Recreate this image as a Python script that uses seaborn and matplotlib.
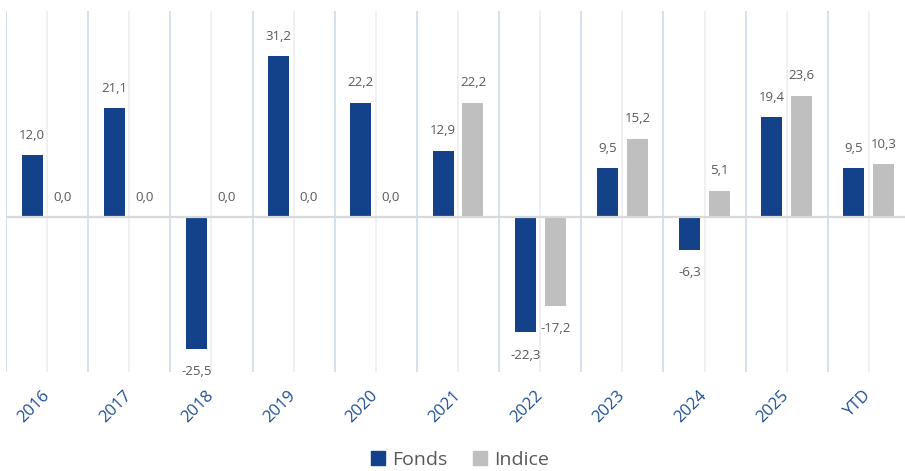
import matplotlib
matplotlib.use("Agg")
import matplotlib.pyplot as plt
import seaborn as sns
import pandas as pd

years = ["2016", "2017", "2018", "2019", "2020", "2021", "2022", "2023", "2024", "2025", "YTD"]
fonds = [12.0, 21.1, -25.5, 31.2, 22.2, 12.9, -22.3, 9.5, -6.3, 19.4, 9.5]
indice = [0.0, 0.0, 0.0, 0.0, 0.0, 22.2, -17.2, 15.2, 5.1, 23.6, 10.3]
series = ["Fonds", "Indice"]
colors = {"Fonds": "#13428a", "Indice": "#bfbfbf"}

df = pd.DataFrame({
    "Année": years * 2,
    "Série": [series[0]] * len(years) + [series[1]] * len(years),
    "Valeur": fonds + indice,
})

sns.set_theme(style="white")
plt.rcParams["font.family"] = ["Open Sans", "DejaVu Sans"]

fig = plt.figure(figsize=(9.05, 4.71), dpi=100)
W, H = 905, 471
ax = fig.add_axes([6 / W, 99 / H, 904 / W, 361 / H])

sns.barplot(data=df, x="Année", y="Valeur", hue="Série", order=years,
            hue_order=series, palette=colors, width=0.73, gap=0.3,
            saturation=1, linewidth=0, ax=ax, legend=False)

ax.set_xlim(-0.5, len(years) - 0.5)
ax.set_ylim(-30, 40)
ax.set_yticks([])
ax.set_xlabel("")
ax.set_ylabel("")
for s in ax.spines.values():
    s.set_visible(False)

# vertical guides: category boundaries in light blue, centres in light grey
ax.set_xticks([i - 0.5 for i in range(len(years) + 1)], minor=True)
ax.grid(False)
ax.grid(which="minor", axis="x", color="#d6e0ee", lw=1.4)
ax.grid(which="major", axis="x", color="#f0f0f0", lw=1.4)
ax.set_axisbelow(True)
ax.axhline(0, color="#d9d9d9", lw=1.6, zorder=1)

ax.tick_params(axis="x", which="both", length=0, pad=15)
for lab in ax.get_xticklabels():
    lab.set_rotation(45)
    lab.set_ha("right")
    lab.set_va("center")
    lab.set_rotation_mode("anchor")
    lab.set_color("#1d4f96")
    lab.set_fontsize(12)

# value labels
for container in ax.containers:
    for patch, val in zip(container.patches, container.datavalues):
        x = patch.get_x() + patch.get_width() / 2
        off = 20 if val >= 0 else -23
        ax.annotate(f"{val:.1f}".replace(".", ","), (x, val),
                    xytext=(0, off), textcoords="offset pixels",
                    ha="center", va="center", fontsize=9.5, color="#595959")

handles = [plt.Rectangle((0, 0), 1, 1, color=colors[s]) for s in series]
fig.legend(handles, series, loc="center", bbox_to_anchor=(460 / W, 1 - 460 / H),
           ncol=2, frameon=False, fontsize=14, handlelength=0.75, handleheight=0.75,
           handletextpad=0.35, columnspacing=1.3, labelcolor="#595959",
           borderpad=0.2)

fig.savefig("out.png", dpi=100)
